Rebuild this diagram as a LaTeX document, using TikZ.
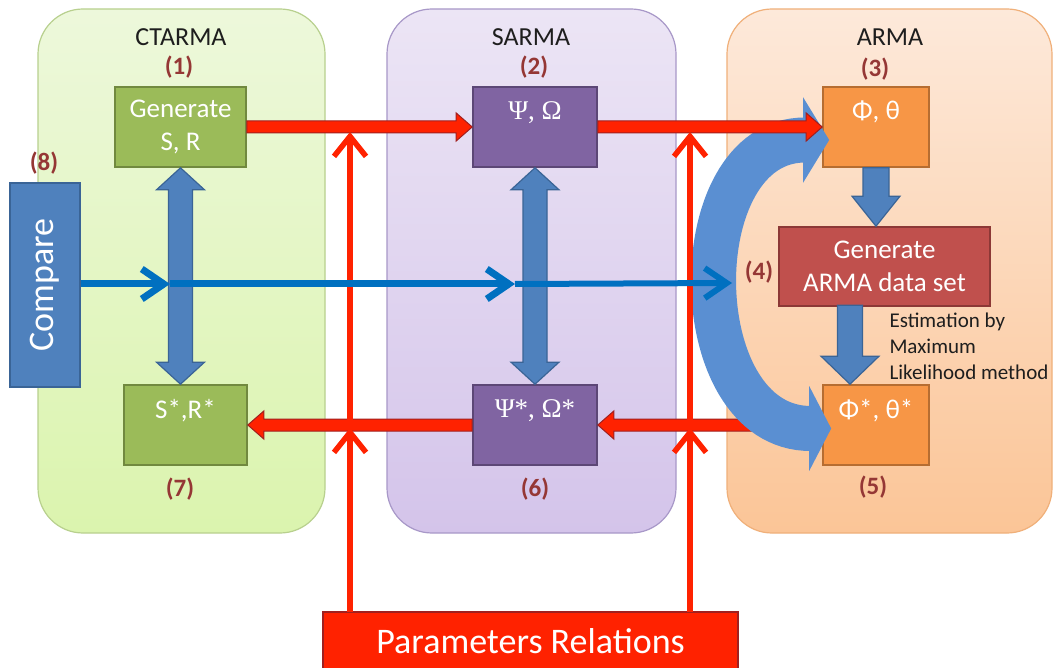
\documentclass[tikz,border=0pt]{standalone}
\usepackage{fontspec}
\usepackage{graphicx}
\setmainfont{Carlito}
\newfontfamily\grk{Liberation Serif}
\usetikzlibrary{arrows.meta,calc}
\definecolor{ctT}{HTML}{EDF8DB}
\definecolor{ctB}{HTML}{DBF4AE}
\definecolor{ctD}{HTML}{B8D08E}
\definecolor{saT}{HTML}{ECE5F5}
\definecolor{saB}{HTML}{D4C4EA}
\definecolor{saD}{HTML}{A898C8}
\definecolor{arT}{HTML}{FDE9DA}
\definecolor{arB}{HTML}{FBC597}
\definecolor{arD}{HTML}{F0B07A}
\definecolor{gfill}{HTML}{9BBB59}
\definecolor{gdraw}{HTML}{71893F}
\definecolor{pfill}{HTML}{8064A2}
\definecolor{pdraw}{HTML}{5C4776}
\definecolor{ofill}{HTML}{F79646}
\definecolor{odraw}{HTML}{B66D31}
\definecolor{rfill}{HTML}{C0504D}
\definecolor{rdraw}{HTML}{8C3836}
\definecolor{bfill}{HTML}{4F81BD}
\definecolor{bdraw}{HTML}{3A6496}
\definecolor{curvblue}{HTML}{5A8FD2}
\definecolor{cmpblue}{HTML}{0070C0}
\definecolor{brred}{HTML}{FF2200}
\definecolor{dkred}{HTML}{A02020}
\definecolor{numcol}{HTML}{953735}
\definecolor{titlecol}{HTML}{1E1E1E}
\tikzset{
  panel/.style={rounded corners=45pt, line width=1.2pt},
  boxbase/.style={rectangle, line width=1.6pt, inner sep=0pt, align=center, text=white,
     font=\fontsize{27}{33}\selectfont},
  gbox/.style={boxbase, fill=gfill, draw=gdraw},
  pbox/.style={boxbase, fill=pfill, draw=pdraw},
  obox/.style={boxbase, fill=ofill, draw=odraw},
  rbox/.style={boxbase, fill=rfill, draw=rdraw},
  title/.style={font=\fontsize{26}{30}\selectfont, text=titlecol},
  num/.style={font=\fontsize{25}{30}\selectfont\bfseries, text=numcol},
  thickred/.style={fill=brred, draw=dkred, line width=1pt, line join=miter},
  thickblue/.style={fill=bfill, draw=bdraw, line width=1.2pt, line join=miter},
  thinred/.style={draw=brred, line width=5.5pt, -{Straight Barb[length=20pt,width=32pt]}},
  cmpline/.style={draw=cmpblue, line width=7pt, -{Straight Barb[length=22pt,width=30pt]}},
}
% horizontal thick red arrow: #1 from, #2 to, #3 = 1 (rightwards) or -1 (leftwards)
\newcommand{\hredarrow}[3]{%
  \draw[thickred] let \p1=(#1), \p2=(#2) in
    (\x1,{\y1+6pt}) -- ({\x2-(#3)*16pt},{\y1+6pt}) -- ({\x2-(#3)*16pt},{\y1+14pt}) -- (\x2,\y1)
    -- ({\x2-(#3)*16pt},{\y1-14pt}) -- ({\x2-(#3)*16pt},{\y1-6pt}) -- (\x1,{\y1-6pt}) -- cycle;}
% vertical double blue arrow: #1 top tip (gives x), #2 bottom node (gives y)
\newcommand{\vdblue}[2]{%
  \draw[thickblue] let \p1=(#1), \p2=(#2) in
    (\x1,\y1) -- ({\x1+24pt},{\y1-22pt}) -- ({\x1+12pt},{\y1-22pt}) -- ({\x1+12pt},{\y2+22pt})
    -- ({\x1+24pt},{\y2+22pt}) -- (\x1,\y2) -- ({\x1-24pt},{\y2+22pt}) -- ({\x1-12pt},{\y2+22pt})
    -- ({\x1-12pt},{\y1-22pt}) -- ({\x1-24pt},{\y1-22pt}) -- cycle;}
% vertical single blue arrow downwards: #1 start (gives x), #2 end (gives y), #3 shaft half, #4 head half, #5 head length
\newcommand{\vsblue}[5]{%
  \draw[thickblue] let \p1=(#1), \p2=(#2) in
    ({\x1-#3},\y1) -- ({\x1-#3},{\y2+#5}) -- ({\x1-#4},{\y2+#5}) -- (\x1,\y2) -- ({\x1+#4},{\y2+#5})
    -- ({\x1+#3},{\y2+#5}) -- ({\x1+#3},\y1) -- cycle;}
\begin{document}
\begin{tikzpicture}[x=1pt,y=-1pt]
\useasboundingbox (0,0) rectangle (1055,668);
\clip (0,0) rectangle (1055,668);
\fill[white] (0,0) rectangle (1055,668);
% panels
\draw[panel, draw=ctD, top color=ctT, bottom color=ctB] (38,9) rectangle (325,533);
\draw[panel, draw=saD, top color=saT, bottom color=saB] (387,9) rectangle (676,533);
\draw[panel, draw=arD, top color=arT, bottom color=arB] (727,9) rectangle (1052,533);
% titles and numbers
\node[title] (tct) at (181,37) {CTARMA};
\node[title] (tsa) at (531,37) {SARMA};
\node[title] (tar) at (890,37) {ARMA};
\node[num] (n1) at (179,67) {(1)};
\node[num] (n2) at (534,67) {(2)};
\node[num] (n3) at (875,69) {(3)};
\node[num] (n4) at (759,272) {(4)};
\node[num] (n5) at (873,487) {(5)};
\node[num] (n6) at (535,489) {(6)};
\node[num] (n7) at (180,489) {(7)};
\node[num] (n8) at (44,163) {(8)};
% boxes
\node[gbox, minimum width=131pt, minimum height=80pt] (gen) at (180.5,127) {Generate\\S, R};
\node[pbox, minimum width=124pt, minimum height=80pt] (psi) at (535,127) {{\grk Ψ, Ω}\\~};
\node[obox, minimum width=106pt, minimum height=80pt] (phi) at (876,127) {Φ, θ\\~};
\node[rbox, minimum width=211pt, minimum height=79pt] (gad) at (884.5,266.5) {Generate\\ARMA data set};
\node[obox, minimum width=106pt, minimum height=80pt] (phis) at (876,425) {Φ*, θ*\\~};
\node[pbox, minimum width=124pt, minimum height=80pt] (psis) at (535,425) {{\grk Ψ*, Ω*}\\~};
\node[gbox, minimum width=123pt, minimum height=80pt] (srs) at (185.5,425) {S*,R*\\~};
\node[boxbase, fill=bfill, draw=bdraw, minimum width=70pt, minimum height=204pt] (cmp) at (45,285)
   {\rotatebox{90}{\fontsize{36}{40}\selectfont Compare}};
\node[boxbase, fill=brred, draw=dkred, minimum width=415pt, minimum height=58pt,
   font=\fontsize{36}{40}\selectfont] (pr) at (530.5,641) {Parameters Relations};
\node[align=left, anchor=west, font=\fontsize{21}{26}\selectfont, text=titlecol] (est) at (886,346)
   {Estimation by\\Maximum\\Likelihood method};
% red arrow under the big curve
\hredarrow{phis.west}{psis.east}{-1}
% big curved double arrow (4)
\coordinate (cb) at ($(phis.west)+(9,3.5)$);
\coordinate (ctp) at ($(phi.west)+(7,13)$);
\draw[curvblue, line width=45pt, {Triangle[length=22pt,width=84pt]}-{Triangle[length=26pt,width=84pt]}]
   (cb) .. controls +(-148,0) and +(-148,0) .. (ctp);
% thick red arrows
\hredarrow{gen.east}{psi.west}{1}
\hredarrow{psi.east}{phi.west}{1}
\hredarrow{psis.west}{srs.east}{-1}
% thin red vertical arrows from Parameters Relations
\coordinate (v1b) at (350,612);
\coordinate (v1m) at (350,428);
\coordinate (v1t) at (350,132);
\coordinate (v2b) at (690,612);
\coordinate (v2m) at (690,428);
\coordinate (v2t) at (690,132);
\draw[thinred] (v1b) -- (v1m);
\draw[thinred] (v1m) -- (v1t);
\draw[thinred] (v2b) -- (v2m);
\draw[thinred] (v2m) -- (v2t);
% blue thick arrows
\vdblue{gen.south}{srs.north}
\vdblue{psi.south}{psis.north}
\vsblue{phi.south}{gad.north}{13pt}{24pt}{30pt}
\coordinate (gs) at ($(phis.north)+(-26,-79)$);
\vsblue{gs}{phis.north}{12.5pt}{29pt}{28pt}
% compare line
\coordinate (c1) at (170,284);
\coordinate (c2) at (515,284);
\coordinate (c3) at (732,283);
\draw[cmpline] (cmp.east |- c1) -- (c1);
\draw[cmpline] (c1) -- (c2);
\draw[cmpline, line width=6pt] (c2) -- (c3);
\end{tikzpicture}
\end{document}
